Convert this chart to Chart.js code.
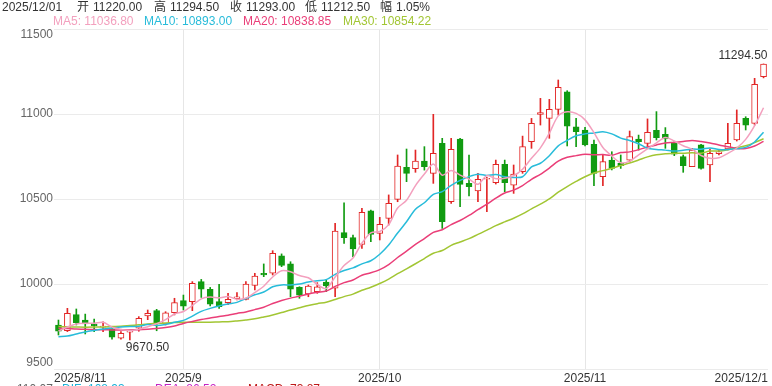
<!DOCTYPE html>
<html>
<head>
<meta charset="utf-8">
<script src="https://cdn.jsdelivr.net/npm/chart.js@4.4.1/dist/chart.umd.min.js"></script>
<style>
  html, body { margin: 0; padding: 0; background: #fff; overflow: hidden; }
  #wrap { position: relative; width: 772px; height: 386px; overflow: hidden;
          font-family: 'Liberation Sans', Arial, 'Noto Sans CJK SC', sans-serif; font-size: 12px; }
  #wrap canvas { position: absolute; left: 0; top: 0; }
  .t { position: absolute; white-space: nowrap; line-height: 12px; }
</style>
</head>
<body>
<div id="wrap">
  <canvas id="kline" width="772" height="386"></canvas>
  <div id="info"></div>
</div>
<script>
const red = 'rgb(226, 38, 38)';
const green = 'rgb(17, 155, 17)';
const pink = 'rgb(243, 160, 190)';
const cyan = 'rgb(40, 188, 218)';
const rose = 'rgb(234, 62, 120)';
const olive = 'rgb(162, 198, 52)';

// daily candles, 2025/8/11 .. 2025/12/01
const opens = [9759, 9725, 9820, 9788, 9763, 9746, 9734, 9681, 9717, 9740,
  9812, 9843, 9765, 9831, 9902, 9896, 10014, 9969, 9896, 9890,
  9914, 9910, 9992, 10063, 10063, 10165, 10118, 9980, 9941, 9955,
  10012, 9975, 10302, 10273, 10233, 10430, 10298, 10386, 10498, 10686,
  10678, 10723, 10651, 10827, 10484, 10853, 10592, 10547, 10616, 10596,
  10704, 10582, 10661, 10837, 10998, 10974, 11027, 11131, 10925, 10906,
  10821, 10631, 10729, 10710, 10729, 10853, 10827, 10904, 10880, 10827,
  10749, 10690, 10818, 10700, 10767, 10794, 10847, 10974, 10945, 11220];
const highs = [9788, 9857, 9853, 9823, 9794, 9778, 9745, 9720, 9727, 9808,
  9847, 9851, 9837, 9916, 9935, 10014, 10027, 9980, 9998, 9945,
  9949, 10014, 10063, 10118, 10196, 10177, 10131, 9984, 9994, 10008,
  10024, 10357, 10478, 10288, 10445, 10435, 10392, 10524, 10759, 10794,
  10788, 10808, 10998, 10857, 10857, 10857, 10759, 10651, 10627, 10729,
  10729, 10700, 10870, 10974, 11092, 11086, 11200, 11137, 10974, 10922,
  10847, 10759, 10778, 10759, 10900, 10876, 10971, 11014, 10920, 10837,
  10759, 10798, 10822, 10794, 10788, 10945, 11024, 10984, 11210, 11294.5];
const lows = [9700, 9720, 9759, 9706, 9720, 9720, 9675, 9675, 9670.5, 9722,
  9790, 9725, 9759, 9818, 9847, 9843, 9921, 9871, 9857, 9878,
  9906, 9906, 9965, 10043, 10053, 10102, 9925, 9916, 9925, 9945,
  9955, 9925, 10239, 10161, 10210, 10249, 10259, 10347, 10484, 10602,
  10657, 10670, 10592, 10327, 10474, 10455, 10518, 10484, 10425, 10588,
  10543, 10533, 10651, 10798, 10935, 10857, 10994, 10812, 10808, 10812,
  10578, 10578, 10671, 10680, 10720, 10788, 10808, 10847, 10798, 10755,
  10657, 10690, 10676, 10602, 10759, 10788, 10841, 10906, 10935, 11212.5];
const closes = [9723, 9828, 9773, 9765, 9755, 9752, 9687, 9710, 9722, 9798,
  9827, 9772, 9831, 9890, 9870, 10004, 9969, 9882, 9867, 9910,
  9925, 10000, 10047, 10053, 10181, 10110, 9969, 9935, 9988, 9984,
  9988, 10312, 10273, 10206, 10422, 10292, 10351, 10475, 10694, 10651,
  10723, 10690, 10768, 10367, 10792, 10586, 10572, 10616, 10621, 10704,
  10596, 10647, 10808, 10945, 11008, 11027, 11157, 10929, 10896, 10818,
  10651, 10720, 10680, 10696, 10867, 10837, 10892, 10861, 10853, 10763,
  10696, 10788, 10680, 10769, 10778, 10827, 10945, 10935, 11174, 11293];

const ma5 = [9723.6, 9747, 9765, 9769, 9768.8, 9774.6, 9746.4, 9733.8, 9725.2, 9733.8,
  9748.8, 9765.8, 9790, 9823.6, 9838, 9873.4, 9912.8, 9923, 9918.4, 9926.4,
  9910.6, 9916.8, 9949.8, 9987, 10041.2, 10078.2, 10072, 10049.6, 10036.6, 9997.2,
  9972.8, 10041.4, 10109, 10152.6, 10240.2, 10301, 10308.8, 10349.2, 10446.8, 10492.6,
  10578.8, 10646.6, 10705.2, 10639.8, 10668, 10640.6, 10617, 10586.6, 10637.4, 10619.8,
  10621.8, 10636.8, 10675.2, 10740, 10800.8, 10887, 10989, 11013.2, 11003.4, 10965.4,
  10890.2, 10802.8, 10753, 10713, 10722.8, 10760, 10794.4, 10830.6, 10862, 10841.2,
  10813, 10792.2, 10756, 10739.2, 10742.2, 10768.4, 10799.8, 10850.8, 10931.8, 11036.8];
const ma10 = [9690, 9694, 9706, 9718, 9727, 9735, 9741, 9747, 9750, 9751.3,
  9761.7, 9756.1, 9761.9, 9774.4, 9785.9, 9811.1, 9839.3, 9856.5, 9871, 9882.2,
  9892, 9914.8, 9936.4, 9952.7, 9983.8, 9994.4, 9994.4, 9999.7, 10011.8, 10019.2,
  10025.5, 10056.7, 10079.3, 10094.6, 10118.7, 10136.9, 10175.1, 10229.1, 10299.7, 10366.4,
  10439.9, 10477.7, 10527.2, 10543.3, 10580.3, 10609.7, 10631.8, 10645.9, 10638.6, 10643.9,
  10631.2, 10626.9, 10630.9, 10688.7, 10710.3, 10754.4, 10812.9, 10844.2, 10871.7, 10883.1,
  10888.6, 10895.9, 10883.1, 10858.2, 10844.1, 10825.1, 10798.6, 10791.8, 10787.5, 10782,
  10786.5, 10793.3, 10793.3, 10800.6, 10791.7, 10790.7, 10796, 10803.4, 10835.5, 10893];
const ma20 = [9739, 9738, 9735, 9734, 9732, 9731, 9730, 9730, 9730, 9731,
  9734, 9738, 9744, 9753, 9768, 9780, 9791, 9800, 9809, 9816.8,
  9826.9, 9835.5, 9849.2, 9863.6, 9884.9, 9902.8, 9916.9, 9928.1, 9941.4, 9950.7,
  9958.8, 9985.8, 10007.9, 10023.7, 10051.3, 10065.7, 10084.8, 10114.4, 10155.8, 10192.8,
  10232.7, 10267.2, 10303.3, 10319, 10349.5, 10373.3, 10403.5, 10437.5, 10469.2, 10505.2,
  10535.6, 10552.3, 10579.1, 10616, 10645.3, 10682.1, 10722.4, 10745.1, 10755.2, 10763.5,
  10759.9, 10761.4, 10757, 10773.5, 10777.2, 10789.8, 10805.8, 10818, 10829.6, 10832.6,
  10837.6, 10844.6, 10838.2, 10829.4, 10817.9, 10807.9, 10797.3, 10797.6, 10811.5, 10838.85];
const ma30 = [9749.5, 9748, 9747, 9746, 9746.5, 9747.5, 9750, 9752, 9756, 9760,
  9765, 9768, 9771, 9773, 9775, 9775.5, 9775.5, 9775.5, 9777, 9778,
  9782.5, 9788, 9795, 9806, 9818, 9832, 9847, 9860, 9873, 9884.2,
  9893.1, 9909.2, 9925.9, 9940.6, 9962.8, 9980.8, 10002.9, 10028.4, 10060.8, 10089.3,
  10119.1, 10149.7, 10181, 10196.9, 10227.6, 10247, 10267.1, 10291.6, 10316.7, 10343.2,
  10365.5, 10387.1, 10412.5, 10442.2, 10469.8, 10500.3, 10539.9, 10573.1, 10603.3, 10631.1,
  10653.2, 10666.8, 10680.4, 10696.7, 10711.6, 10729.7, 10747.8, 10760.6, 10765.9, 10769.7,
  10768.8, 10772, 10769.1, 10782.5, 10782, 10790.1, 10802.5, 10813.1, 10831.6, 10854.22];

// x axis ticks (candle index) and their labels
const tickPos = [-0.5, 14, 36, 59, 79.5];
const tickText = ['2025/8/11', '2025/9', '2025/10', '2025/11', '2025/12/1'];
const monthLines = [14, 36, 59];

const lastDate = '2025/12/01';
const amplitude = '1.05%';

const idx = closes.map((c, i) => i);
const up = closes.map((c, i) => c >= opens[i]);
const line = (vals, color) => ({
  type: 'line',
  data: idx.map(i => ({ x: i, y: vals[i] })),
  borderColor: color,
  borderWidth: 1.5,
  pointRadius: 0,
  tension: 0.3,
  order: 0
});

// header / legend texts as html
const info = document.getElementById('info');
function put(text, left, top, color) {
  const s = document.createElement('span');
  s.className = 't';
  s.textContent = text;
  s.style.left = left + 'px';
  s.style.top = top + 'px';
  s.style.color = color;
  info.appendChild(s);
}
const n = closes.length - 1;
put(lastDate, 2, 1, '#333');
put('开', 77, 1, '#333'); put(opens[n].toFixed(2), 93, 1, '#333');
put('高', 154, 1, '#333'); put(highs[n].toFixed(2), 170, 1, '#333');
put('收', 230, 1, '#333'); put(closes[n].toFixed(2), 246, 1, '#333');
put('低', 305, 1, '#333'); put(lows[n].toFixed(2), 321, 1, '#333');
put('幅', 380, 1, '#333'); put(amplitude, 396, 1, '#333');
put('MA5: ' + ma5[n].toFixed(2), 53, 15, pink);
put('MA10: ' + ma10[n].toFixed(2), 144, 15, cyan);
put('MA20: ' + ma20[n].toFixed(2), 243, 15, rose);
put('MA30: ' + ma30[n].toFixed(2), 343, 15, olive);
// next panel legend, cut by the picture edge
put('110.07', 17, 383, '#666');
put('DIF: 108.93', 62, 383, 'rgb(30, 178, 216)');
put('DEA: 86.52', 155, 383, 'rgb(196, 34, 196)');
put('MACD: 73.87', 248, 383, 'rgb(190, 24, 24)');

const extremeLabels = {
  id: 'extremeLabels',
  afterDatasetsDraw(chart) {
    const { ctx, scales: { x, y } } = chart;
    let hi = 0, lo = 0;
    highs.forEach((v, i) => { if (v > highs[hi]) hi = i; });
    lows.forEach((v, i) => { if (v < lows[lo]) lo = i; });
    ctx.save();
    ctx.font = '12px "Liberation Sans", Arial, sans-serif';
    ctx.fillStyle = '#333';
    ctx.textBaseline = 'middle';
    ctx.textAlign = 'right';
    ctx.fillText(highs[hi].toFixed(2), x.getPixelForValue(hi) + 4, y.getPixelForValue(highs[hi]) - 8);
    ctx.textAlign = 'left';
    ctx.fillText(lows[lo].toFixed(2), x.getPixelForValue(lo) - 4, y.getPixelForValue(lows[lo]) + 8);
    ctx.restore();
  }
};

Chart.defaults.font.family = "'Liberation Sans', Arial, sans-serif";

const chart = new Chart(document.getElementById('kline'), {
  type: 'bar',
  data: {
    datasets: [
      line(ma5, pink),
      line(ma10, cyan),
      line(ma20, rose),
      line(ma30, olive),
      {
        type: 'bar',
        data: idx.map(i => ({ x: i, y: [opens[i], closes[i]] })),
        backgroundColor: idx.map(i => up[i] ? '#fff' : green),
        borderColor: idx.map(i => up[i] ? red : green),
        borderWidth: 1,
        borderSkipped: false,
        barThickness: 6,
        grouped: false,
        order: 1
      },
      {
        type: 'bar',
        data: idx.map(i => ({ x: i, y: [lows[i], highs[i]] })),
        backgroundColor: idx.map(i => up[i] ? red : green),
        borderWidth: 0,
        barThickness: 1,
        grouped: false,
        order: 2
      }
    ]
  },
  options: {
    responsive: false,
    animation: false,
    layout: { padding: { top: 29, right: 4, left: 0, bottom: 0 } },
    plugins: { legend: { display: false }, tooltip: { enabled: false } },
    scales: {
      x: {
        type: 'linear',
        offset: false,
        min: -0.5,
        max: 79.5,
        afterBuildTicks: (axis) => { axis.ticks = tickPos.map(v => ({ value: v })); },
        afterFit: (axis) => { axis.height = 17; },
        ticks: {
          align: 'inner',
          padding: 2,
          autoSkip: false,
          maxRotation: 0,
          color: '#333',
          font: { size: 12 },
          callback: (v) => { const k = tickPos.indexOf(v); return k < 0 ? '' : tickText[k]; }
        },
        grid: {
          offset: false,
          drawTicks: false,
          color: (c) => (c.tick && monthLines.includes(c.tick.value)) ? '#e6e6e6' : 'rgba(0,0,0,0)'
        },
        border: { display: false }
      },
      y: {
        min: 9500,
        max: 11500,
        afterFit: (axis) => { axis.width = 54; },
        ticks: {
          stepSize: 500,
          padding: 1,
          color: '#666',
          font: { size: 12, lineHeight: 1 },
          callback: (v) => v === 11500 ? ['', '11500'] : (v === 9500 ? ['9500', ''] : String(v))
        },
        grid: { drawTicks: false, color: '#ebebeb' },
        border: { display: false }
      }
    }
  },
  plugins: [extremeLabels]
});
</script>
</body>
</html>
